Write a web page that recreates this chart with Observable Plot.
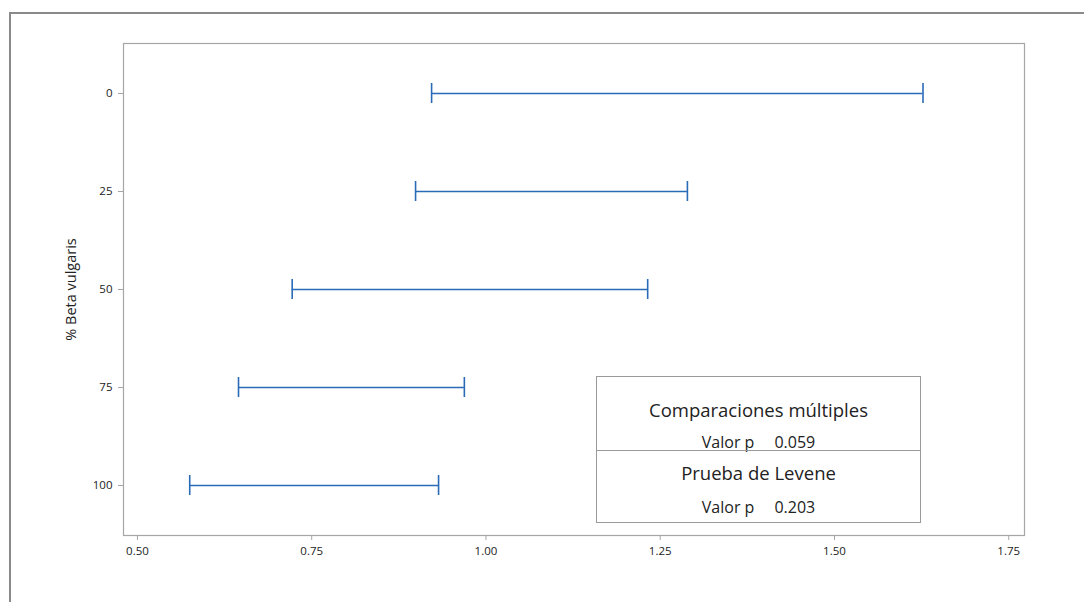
<!DOCTYPE html>
<html>
<head>
<meta charset="utf-8">
<script src="https://cdn.jsdelivr.net/npm/d3@7"></script>
<script src="https://cdn.jsdelivr.net/npm/@observablehq/plot@0.6"></script>
<style>
  html, body { margin: 0; padding: 0; background: #fff; overflow: hidden; }
  #wrap { position: relative; width: 1084px; height: 602px; font-family: "Open Sans", "Noto Sans", sans-serif; }
  #outer { position: absolute; left: 9px; top: 12px; width: 1200px; height: 700px; border-left: 2px solid #8a8a8a; border-top: 2px solid #8a8a8a; box-sizing: border-box; pointer-events: none; }
  #chart { position: absolute; left: 0; top: 0; }
  #legend { position: absolute; left: 596px; top: 376px; width: 325px; height: 147px; border: 1px solid #9a9a9a; box-sizing: border-box; background: #fff; color: #222; }
  #legend .sec { position: absolute; left: 0; width: 100%; text-align: center; line-height: 24px; height: 24px; white-space: nowrap; }
  #legend .head { font-size: 18.5px; }
  #legend .row { font-size: 16px; }
  #legend .row span { display: inline-block; }
  #legend .divider { position: absolute; left: 0; top: 73px; width: 100%; border-top: 1px solid #9a9a9a; }
</style>
</head>
<body>
<div id="wrap">
  <div id="chart"></div>
  <div id="outer"></div>
  <div id="legend"></div>
</div>
<script>
// Data
const levels = [0, 25, 50, 75, 100];
const lower  = [0.922, 0.899, 0.722, 0.645, 0.575];
const upper  = [1.627, 1.289, 1.232, 0.969, 0.932];
const xTicks = [0.50, 0.75, 1.00, 1.25, 1.50, 1.75];
const yLabel = "% Beta vulgaris";
const legendTitle1 = "Comparaciones múltiples";
const legendTitle2 = "Prueba de Levene";
const pLabel = "Valor p";
const pValues = ["0.059", "0.203"];

const data = levels.map((l, i) => ({level: l, lo: lower[i], hi: upper[i]}));
const blue = "#2a6bb8";

const chart = Plot.plot({
  width: 1084,
  height: 602,
  marginLeft: 123,
  marginRight: 60,
  marginTop: 43,
  marginBottom: 67,
  style: {fontFamily: "'Open Sans', 'Noto Sans', sans-serif", fontSize: "11.5px", color: "#222", background: "transparent"},
  x: {domain: [0.48, 1.7726]},
  y: {type: "band", domain: levels, paddingInner: 0.8, paddingOuter: 0.4},
  marks: [
    Plot.frame({stroke: "#a6a6a6", strokeWidth: 1.2}),
    Plot.axisX({ticks: xTicks, tickFormat: d3.format(".2f"), tickSize: 5, tickPadding: 6, stroke: "#a6a6a6", label: null, fill: "#222"}),
    Plot.axisY({tickSize: 5, tickPadding: 6, stroke: "#a6a6a6", label: yLabel, labelAnchor: "center", labelOffset: 58, fill: "#222"}),
    Plot.ruleY(data, {y: "level", x1: "lo", x2: "hi", stroke: blue, strokeWidth: 1.6}),
    Plot.tickX(data, {x: "lo", y: "level", stroke: blue, strokeWidth: 1.6}),
    Plot.tickX(data, {x: "hi", y: "level", stroke: blue, strokeWidth: 1.6})
  ]
});
document.getElementById("chart").appendChild(chart);
d3.select(chart).selectAll("[aria-label='y-axis label'] text, [aria-label='y-axis label']").style("font-size", "14.5px");

// Legend box
const lg = document.getElementById("legend");
lg.innerHTML = `
  <div class="sec head" style="top:21px">${legendTitle1}</div>
  <div class="sec row" style="top:53px"><span>${pLabel}</span><span style="width:20px"></span><span>${pValues[0]}</span></div>
  <div class="divider"></div>
  <div class="sec head" style="top:84px">${legendTitle2}</div>
  <div class="sec row" style="top:118px"><span>${pLabel}</span><span style="width:20px"></span><span>${pValues[1]}</span></div>
`;
</script>
</body>
</html>
